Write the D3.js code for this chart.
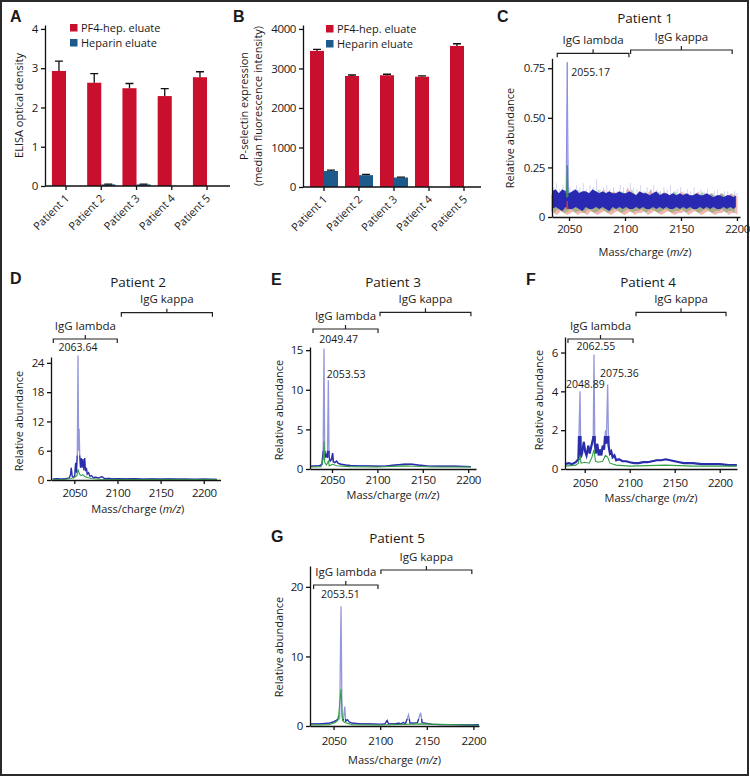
<!DOCTYPE html>
<html><head><meta charset="utf-8">
<script src="https://cdn.jsdelivr.net/npm/d3@7"></script>
<style>
body{margin:0;background:#fff}
svg{display:block}
text{font-family:"Open Sans","Liberation Sans",sans-serif;fill:#1a1a1a}
.tick text{font-family:"Open Sans","Liberation Sans",sans-serif;font-size:11.5px;letter-spacing:-0.4px;fill:#1a1a1a}
.domain,.tick line{stroke:#111;stroke-width:1.3}
</style>
</head><body><svg id="c" width="750" height="777"></svg>
<script>
// ---------------- DATA ----------------
const patients = ["Patient 1","Patient 2","Patient 3","Patient 4","Patient 5"];
const seriesNames = ["PF4-hep. eluate","Heparin eluate"];
// Panel A: ELISA optical density
const elisaPF4 = [2.93, 2.63, 2.49, 2.29, 2.77];
const elisaPF4SD = [0.25, 0.23, 0.12, 0.19, 0.14];
const elisaHep = [0, 0.04, 0.04, 0, 0];
const elisaHepSD = [0, 0.01, 0.01, 0, 0];
const elisaTicks = [0, 1, 2, 3, 4];
// Panel B: P-selectin expression (MFI)
const pselPF4 = [3445, 2810, 2828, 2792, 3570];
const pselPF4SD = [40, 25, 25, 18, 55];
const pselHep = [405, 300, 240, 0, 0];
const pselHepSD = [20, 18, 12, 0, 0];
const pselTicks = [0, 1000, 2000, 3000, 4000];
// Mass spec common
const mzTicks = [2050, 2100, 2150, 2200];
// Panel C (Patient 1) noisy band samples
const cMz = [2035,2038,2041,2044,2047,2050,2053,2056,2059,2062,2065,2068,2071,2074,2077,2080,2083,2086,2089,2092,2095,2098,2101,2104,2107,2110,2113,2116,2119,2122,2125,2128,2131,2134,2137,2140,2143,2146,2149,2152,2155,2158,2161,2164,2167,2170,2173,2176,2179,2182,2185,2188,2191,2194,2197,2199];
const cBlueSpike = [0.15,0.17,0.14,0.16,0.18,0.15,0.14,0.16,0.15,0.17,0.14,0.16,0.15,0.19,0.14,0.15,0.16,0.14,0.15,0.13,0.16,0.15,0.14,0.17,0.15,0.14,0.16,0.13,0.15,0.14,0.16,0.14,0.13,0.15,0.14,0.16,0.13,0.14,0.15,0.13,0.14,0.13,0.15,0.12,0.14,0.13,0.14,0.12,0.13,0.14,0.12,0.13,0.13,0.12,0.13,0.12];
const cBlueHi = [0.13,0.14,0.12,0.14,0.13,0.12,0.13,0.14,0.12,0.13,0.13,0.12,0.14,0.13,0.12,0.13,0.12,0.13,0.12,0.12,0.13,0.12,0.12,0.13,0.12,0.11,0.13,0.12,0.12,0.11,0.12,0.13,0.11,0.12,0.12,0.11,0.12,0.11,0.12,0.11,0.12,0.11,0.11,0.12,0.11,0.11,0.12,0.11,0.10,0.11,0.11,0.10,0.11,0.11,0.10,0.11];
const cBlueLo = [0.04,0.05,0.04,0.03,0.05,0.04,0.04,0.05,0.04,0.03,0.05,0.04,0.04,0.05,0.04,0.05,0.04,0.03,0.05,0.04,0.05,0.04,0.05,0.04,0.04,0.05,0.04,0.05,0.04,0.04,0.05,0.04,0.05,0.04,0.05,0.04,0.04,0.05,0.04,0.05,0.04,0.05,0.04,0.04,0.05,0.04,0.05,0.04,0.05,0.04,0.04,0.05,0.04,0.05,0.04,0.05];
const cRedHi = [0.12,0.10,0.13,0.11,0.14,0.10,0.12,0.11,0.13,0.10,0.11,0.13,0.10,0.12,0.11,0.14,0.10,0.12,0.13,0.11,0.12,0.10,0.15,0.11,0.12,0.10,0.13,0.11,0.12,0.14,0.10,0.12,0.11,0.13,0.10,0.12,0.11,0.10,0.13,0.11,0.12,0.10,0.11,0.13,0.10,0.12,0.11,0.12,0.10,0.11,0.12,0.10,0.11,0.12,0.10,0.11];
const cRedLo = [0.02,0.01,0.03,0.02,0.01,0.02,0.03,0.01,0.02,0.02,0.01,0.03,0.02,0.01,0.02,0.03,0.02,0.01,0.02,0.03,0.02,0.01,0.02,0.03,0.01,0.02,0.02,0.03,0.01,0.02,0.03,0.02,0.01,0.02,0.03,0.02,0.01,0.02,0.02,0.03,0.01,0.02,0.03,0.02,0.01,0.02,0.03,0.02,0.01,0.02,0.02,0.03,0.01,0.02,0.02,0.01];
const cGreenHi = [0.11,0.14,0.12,0.10,0.13,0.15,0.11,0.12,0.14,0.11,0.13,0.11,0.12,0.10,0.14,0.12,0.11,0.13,0.10,0.12,0.11,0.13,0.12,0.10,0.14,0.11,0.12,0.10,0.13,0.11,0.12,0.10,0.13,0.11,0.12,0.10,0.12,0.13,0.10,0.11,0.12,0.10,0.11,0.12,0.10,0.13,0.10,0.11,0.12,0.10,0.11,0.12,0.10,0.11,0.10,0.12];
const cGreenLo = [0.03,0.02,0.04,0.03,0.02,0.03,0.04,0.02,0.03,0.03,0.02,0.04,0.03,0.02,0.03,0.04,0.03,0.02,0.03,0.04,0.03,0.02,0.03,0.04,0.02,0.03,0.03,0.04,0.02,0.03,0.04,0.03,0.02,0.03,0.04,0.03,0.02,0.03,0.03,0.04,0.02,0.03,0.04,0.03,0.02,0.03,0.04,0.03,0.02,0.03,0.03,0.04,0.02,0.03,0.03,0.02];
const cPeakBlue = [[2047.4,0.12],[2048.4,0.78],[2049.4,0.12]];
const cPeakGreen = [[2047.7,0.10],[2048.4,0.26],[2049.1,0.10]];
const cPeakRed = [[2047.9,0.04],[2048.4,0.08],[2048.9,0.04]];
// Panel D (Patient 2)
const dBlue = [[2025,0.2],[2030,0.3],[2035,0.2],[2040,0.3],[2044,0.4],[2045.5,1.0],[2046.5,2.5],[2047.5,0.8],[2049,0.5],[2050.5,0.9],[2051.5,3.5],[2052.5,1.5],[2053.5,5.5],[2054.3,25.5],[2055,6],[2055.6,10.5],[2056.3,5],[2057.2,2.5],[2058.2,4.5],[2059,2.5],[2060,4.3],[2061,2],[2062,4.5],[2063,1.8],[2064,2.5],[2065,1.2],[2066.5,1.5],[2068,0.8],[2070,0.9],[2072,0.5],[2075,0.6],[2078,0.4],[2082,0.7],[2085,0.3],[2090,0.35],[2095,0.25],[2100,0.3],[2110,0.25],[2120,0.3],[2130,0.2],[2140,0.25],[2150,0.2],[2160,0.25],[2170,0.2],[2180,0.2],[2190,0.15],[2200,0.2],[2210,0.15],[2215,0.15]];
const dGreen = [[2025,0.1],[2040,0.15],[2046,0.3],[2050,0.5],[2053,0.9],[2054.3,2.2],[2056,1.2],[2058,0.9],[2060,1.1],[2062,0.7],[2065,0.5],[2070,0.3],[2080,0.15],[2100,0.1],[2150,0.08],[2215,0.08]];
// Panel E (Patient 3)
const eBlue = [[2027,0.35],[2032,0.4],[2036,0.4],[2039,0.6],[2040.3,2.2],[2041.2,15.2],[2042,2.3],[2043,1.6],[2044,1.8],[2045,1.4],[2046,11.2],[2046.8,1.6],[2048,1.0],[2049.5,1.2],[2050.7,2.0],[2051.5,0.9],[2053,0.8],[2055,1.0],[2057,0.7],[2060,0.6],[2065,0.5],[2070,0.45],[2080,0.4],[2090,0.4],[2100,0.35],[2110,0.4],[2120,0.5],[2130,0.6],[2138,0.6],[2145,0.5],[2155,0.4],[2170,0.35],[2185,0.35],[2203,0.3]];
const eGreen = [[2027,0.25],[2038,0.3],[2040.3,1.2],[2041.2,3.5],[2042,0.8],[2044,0.5],[2046,1.0],[2047,0.4],[2050.7,0.6],[2055,0.4],[2070,0.3],[2100,0.25],[2130,0.4],[2140,0.35],[2160,0.25],[2203,0.25]];
// Panel F (Patient 4)
const fBlue = [[2028,0.25],[2032,0.3],[2036,0.25],[2040,0.35],[2043,0.5],[2044.8,4.0],[2045.6,0.6],[2047,0.8],[2049,1.4],[2050.5,0.9],[2052,0.7],[2054,1.2],[2055.5,0.8],[2057,1.1],[2058.5,1.4],[2059.5,1.6],[2060.3,5.9],[2061.2,1.3],[2062.5,0.8],[2064,1.3],[2065.5,0.7],[2067,1.0],[2068.5,0.7],[2070,1.2],[2071.5,1.0],[2073,2.0],[2074,1.3],[2075.5,4.35],[2076.5,1.2],[2078,0.8],[2079.5,0.9],[2081,0.6],[2083,0.7],[2085,0.45],[2088,0.5],[2092,0.4],[2096,0.4],[2100,0.35],[2105,0.3],[2110,0.3],[2115,0.35],[2120,0.35],[2125,0.4],[2130,0.45],[2135,0.45],[2140,0.5],[2145,0.45],[2150,0.4],[2155,0.35],[2160,0.3],[2170,0.3],[2180,0.25],[2190,0.25],[2200,0.25],[2210,0.2],[2219,0.2]];
const fGreen = [[2028,0.15],[2040,0.2],[2043,0.3],[2044.8,0.7],[2046,0.3],[2050,0.35],[2055,0.3],[2058,0.6],[2060.3,1.0],[2062,0.4],[2065,0.35],[2070,0.4],[2073,0.7],[2075.5,0.6],[2078,0.3],[2085,0.2],[2100,0.15],[2140,0.2],[2170,0.15],[2219,0.15]];
// Panel G (Patient 5)
const gBlue = [[2025,0.3],[2035,0.3],[2045,0.4],[2050,0.6],[2054,0.9],[2055.5,1.6],[2056.5,1.0],[2058,17.2],[2059,1.5],[2060.5,0.8],[2062,2.8],[2063,0.7],[2065,0.9],[2066.5,0.6],[2070,0.4],[2080,0.3],[2090,0.3],[2100,0.25],[2105,0.3],[2107.5,0.8],[2109,0.3],[2115,0.3],[2120,0.4],[2122,0.3],[2125,0.5],[2127,0.3],[2130.4,1.6],[2132,0.4],[2136,0.4],[2140,0.5],[2143.4,1.9],[2145,0.5],[2148,0.4],[2155,0.25],[2165,0.2],[2180,0.2],[2195,0.15],[2206,0.2]];
const gGreen = [[2025,0.15],[2045,0.2],[2052,0.5],[2055,0.9],[2058,5.3],[2059.5,0.8],[2062,0.5],[2070,0.2],[2100,0.15],[2143,0.3],[2206,0.1]];
// Peak annotations (label text, m/z, abundance of the labelled peak)
const cPeaks = [["2055.17",2048.4,0.78]];
const dPeaks = [["2063.64",2054.3,25.5]];
const ePeaks = [["2049.47",2041.2,15.2],["2053.53",2046,11.2]];
const fPeaks = [["2062.55",2060.3,5.9],["2075.36",2075.5,4.35],["2048.89",2044.8,4.0]];
const gPeaks = [["2053.51",2058,17.2]];
// IgG region brackets (m/z ranges)
const cLambda=[2039.5,2103.5], cKappa=[2105,2195.7];
const dLambda=[2025.7,2099.8], dKappa=[2104.5,2210];
const eLambda=[2029.1,2100.7], eKappa=[2102.9,2203];
const fLambda=[2031.4,2103.7], fKappa=[2107,2207];
const gLambda=[2028.6,2097.6], gKappa=[2100.8,2198.3];

// ---------------- DRAWING ----------------
const svg = d3.select("#c");
const RED="#c8102e", BLUE="#1b5a8a";
svg.append("rect").attr("x",1).attr("y",1).attr("width",747).attr("height",774)
  .attr("fill","none").attr("stroke","#2a2a2a").attr("stroke-width",2);

function letter(t,x,y){
  svg.append("text").attr("x",x).attr("y",y).text(t)
    .style("font-family","'Liberation Sans',Arial,sans-serif").style("font-weight","bold").style("font-size","16px");
}

function barPanel(o){
  const g = svg.append("g");
  const x = d3.scaleBand().domain(patients).range(o.xr).paddingInner(0.2).paddingOuter(0.1);
  const sub = d3.scaleBand().domain(seriesNames).range([0,x.bandwidth()]);
  const y = d3.scaleLinear().domain([0,o.yMax]).range([o.bottom,o.top]);
  const series = [[o.pf4,o.pf4sd,RED],[o.hep,o.hepsd,BLUE]];
  series.forEach(([vals,sds,col],si)=>{
    patients.forEach((p,i)=>{
      const bx = x(p)+sub(seriesNames[si]);
      const bw = sub.bandwidth();
      if(vals[i]>0){
        g.append("rect").attr("x",bx).attr("y",y(vals[i])).attr("width",bw)
         .attr("height",y(0)-y(vals[i])).attr("fill",col);
      }
      if(sds[i]>0){
        const cx = bx+bw/2, yt=y(vals[i]+sds[i]);
        g.append("path").attr("d",`M${cx},${y(vals[i])}V${yt}M${cx-4},${yt}H${cx+4}`)
         .attr("stroke","#111").attr("stroke-width",1.3).attr("fill","none");
      }
    });
  });
  g.append("g").attr("transform",`translate(${o.axisX},0)`)
   .call(d3.axisLeft(y).tickValues(o.ticks).tickSize(4).tickPadding(3).tickSizeOuter(0).tickFormat(d3.format("d")));
  g.append("line").attr("x1",o.axisX).attr("x2",o.xEnd).attr("y1",o.bottom).attr("y2",o.bottom)
   .attr("stroke","#111").attr("stroke-width",1.3);
  patients.forEach(p=>{
    const cx = x(p)+x.bandwidth()/2;
    g.append("line").attr("x1",cx).attr("x2",cx).attr("y1",o.bottom).attr("y2",o.bottom+4).attr("stroke","#111").attr("stroke-width",1.3);
    g.append("text").attr("transform",`translate(${cx+4},${o.bottom+13}) rotate(-45)`)
     .attr("text-anchor","end").style("font-size","11px").text(p);
  });
  [[RED,seriesNames[0],0],[BLUE,seriesNames[1],15]].forEach(([c,t,dy])=>{
    g.append("rect").attr("x",o.legX).attr("y",o.legY+dy-7.5).attr("width",7.5).attr("height",7.5).attr("fill",c);
    g.append("text").attr("x",o.legX+11).attr("y",o.legY+dy).style("font-size","11px").text(t);
  });
  o.yTitle.forEach((t,i)=>{
    g.append("text").attr("transform",`translate(${o.yTitleX[i]},${(o.top+o.bottom)/2}) rotate(-90)`)
     .attr("text-anchor","middle").style("font-size","11px").text(t);
  });
}

letter("A",10,22);
barPanel({xr:[48.4,224.65],axisX:45,xEnd:230,bottom:186,top:25,yMax:4.1,ticks:elisaTicks,
  pf4:elisaPF4,pf4sd:elisaPF4SD,hep:elisaHep,hepsd:elisaHepSD,legX:70,legY:31.5,
  yTitle:["ELISA optical density"],yTitleX:[23]});
letter("B",233,22);
barPanel({xr:[306.5,481.5],axisX:303,xEnd:481,bottom:187,top:25,yMax:4100,ticks:pselTicks,
  pf4:pselPF4,pf4sd:pselPF4SD,hep:pselHep,hepsd:pselHepSD,legX:326,legY:32.5,
  yTitle:["P-selectin expression","(median fluorescence intensity)"],yTitleX:[248,262]});

let clipId=0;
function spectrum(o){
  const g = svg.append("g");
  const x = d3.scaleLinear().domain(o.xDom).range([o.left,o.right]);
  const y = d3.scaleLinear().domain(o.yDom).range([o.bottom,o.top]);
  const line = d3.line().x(d=>x(d[0])).y(d=>y(d[1]));
  const plot = g.append("g");
  if(o.noise){
    const n=o.noise;
    const band=(lo,hi,off,col,op)=>{
      const ar=d3.area().x(m=>x(m)+off).y0((m,i)=>y(lo[i])).y1((m,i)=>y(hi[i]));
      plot.append("path").datum(n.mz).attr("d",ar).attr("fill",col).attr("opacity",op);
    };
    band(n.redLo,n.redHi,1.6,"#e0453a",0.4);
    band(n.greenLo,n.greenHi,-1.2,"#3aa050",0.4);
    n.mz.forEach((m,i)=>{
      plot.append("line").attr("x1",x(m)+0.8).attr("x2",x(m)+0.8)
        .attr("y1",y(n.blueHi[i])).attr("y2",y(n.blueSpike[i])).attr("stroke","#8084dd").attr("stroke-width",0.7).attr("opacity",0.5);
    });
    band(n.blueLo,n.blueHi,0,"#2828b2",1);
    plot.append("path").attr("d",line(n.peakBlue)).attr("fill","#b9bbee").attr("stroke","#8a8de0").attr("stroke-width",1);
    plot.append("path").attr("d",line(n.peakGreen)).attr("fill","#3a9a66").attr("stroke","#2f8a5a").attr("stroke-width",0.8);
    plot.append("path").attr("d",line(n.peakRed)).attr("fill","#e03a2a").attr("stroke","#e03a2a").attr("stroke-width",0.8);
  } else {
    const id="clip"+(clipId++);
    svg.append("clipPath").attr("id",id).append("rect")
      .attr("x",o.left).attr("y",y(o.darkMax)).attr("width",o.right-o.left).attr("height",o.bottom-y(o.darkMax));
    plot.append("path").attr("d",line(o.blue)).attr("fill","none").attr("stroke","#9597dc").attr("stroke-width",1.3);
    plot.append("path").attr("d",line(o.blue)).attr("fill","none").attr("stroke","#2a2eaa").attr("stroke-width",o.darkW)
      .attr("clip-path",`url(#${id})`);
    plot.append("path").attr("d",line(o.green)).attr("fill","none").attr("stroke","#33a048").attr("stroke-width",1.1);
  }
  g.append("g").attr("transform",`translate(0,${o.bottom})`)
   .call(d3.axisBottom(x).tickValues(mzTicks).tickSize(4).tickPadding(o.xPad).tickSizeOuter(0).tickFormat(d3.format("d")));
  g.append("g").attr("transform",`translate(${o.left},0)`)
   .call(d3.axisLeft(y).tickValues(o.yTicks).tickSize(4).tickPadding(3).tickSizeOuter(0).tickFormat(o.fmt));
  o.peaks.forEach(([t,m,v],i)=>{
    const a=o.peakPos[i];
    g.append("text").attr("x",x(m)+a[0]).attr("y",y(v)+a[1]).attr("text-anchor",a[2])
     .style("font-size","10.5px").text(t);
  });
  const br=(rng,yy,label)=>{
    const a=x(rng[0]), b=x(rng[1]), mid=(a+b)/2;
    g.append("path").attr("d",`M${a},${yy+4}V${yy}H${b}V${yy+4}M${mid},${yy}V${yy-4}`)
     .attr("fill","none").attr("stroke","#222").attr("stroke-width",1.2);
    g.append("text").attr("x",mid).attr("y",yy-9.5).attr("text-anchor","middle").style("font-size","11.5px").text(label);
  };
  br(o.lambda,o.lambdaY,"IgG lambda");
  br(o.kappa,o.kappaY,"IgG kappa");
  g.append("text").attr("x",o.titleX).attr("y",o.titleY).attr("text-anchor","middle").style("font-size","13.5px").text(o.title);
  g.append("text").attr("transform",`translate(${o.yTitleX},${o.yTitleY}) rotate(-90)`)
   .attr("text-anchor","middle").style("font-size","11px").text("Relative abundance");
  const xt=g.append("text").attr("x",(o.left+o.right)/2+o.xTitleDx).attr("y",o.xTitleY).attr("text-anchor","middle").style("font-size","11px");
  xt.append("tspan").text("Mass/charge (");
  xt.append("tspan").style("font-style","italic").text("m/z");
  xt.append("tspan").text(")");
}

letter("C",497,22);
spectrum({xDom:[2034.8,2202.7],left:552,right:740,yDom:[0,0.8],bottom:217,top:58.3,
  yTicks:[0,0.25,0.5,0.75],fmt:d=>d===0?"0":d3.format(".2f")(d),xPad:4,
  noise:{mz:cMz,blueHi:cBlueHi,blueLo:cBlueLo,blueSpike:cBlueSpike,redHi:cRedHi,redLo:cRedLo,greenHi:cGreenHi,greenLo:cGreenLo,
    peakBlue:cPeakBlue,peakGreen:cPeakGreen,peakRed:cPeakRed},
  peaks:cPeaks,peakPos:[[4,14,"start"]],
  lambda:cLambda,lambdaY:53.3,kappa:cKappa,kappaY:50,
  title:"Patient 1",titleX:645,titleY:23,yTitleX:514,yTitleY:138,xTitleDx:-1,xTitleY:256});

letter("D",10,284);
spectrum({xDom:[2023,2219.5],left:51,right:220.6,yDom:[0,25.2],bottom:480,top:357,
  yTicks:[0,6,12,18,24],fmt:d3.format("d"),xPad:5,blue:dBlue,green:dGreen,darkMax:5,darkW:1.2,
  peaks:dPeaks,peakPos:[[0,-5,"middle"]],
  lambda:dLambda,lambdaY:339,kappa:dKappa,kappaY:312.7,
  title:"Patient 2",titleX:138,titleY:287,yTitleX:23,yTitleY:421,xTitleDx:2,xTitleY:513});

letter("E",271,285);
spectrum({xDom:[2025.8,2208.6],left:310,right:476,yDom:[0,15.4],bottom:469,top:347,
  yTicks:[0,5,10,15],fmt:d3.format("d"),xPad:2.5,blue:eBlue,green:eGreen,darkMax:2.3,darkW:1.4,
  peaks:ePeaks,peakPos:[[14.7,-5.8,"middle"],[-1.6,-2,"start"]],
  lambda:eLambda,lambdaY:329,kappa:eKappa,kappaY:312.3,
  title:"Patient 3",titleX:393,titleY:287,yTitleX:283,yTitleY:410,xTitleDx:0,xTitleY:499});

letter("F",526,285);
spectrum({xDom:[2028.1,2219.2],left:565,right:737,yDom:[0,6.8],bottom:469,top:337,
  yTicks:[0,2,4,6],fmt:d3.format("d"),xPad:6,blue:fBlue,green:fGreen,darkMax:1.7,darkW:2.2,
  peaks:fPeaks,peakPos:[[2,-4.3,"middle"],[-7.7,-7.7,"start"],[-14,-3.4,"start"]],
  lambda:fLambda,lambdaY:339,kappa:fKappa,kappaY:312.3,
  title:"Patient 4",titleX:648,titleY:287,yTitleX:543,yTitleY:400,xTitleDx:0,xTitleY:502});

letter("G",271,542);
spectrum({xDom:[2024.7,2206],left:310,right:479,yDom:[0,23],bottom:726,top:566,
  yTicks:[0,10,20],fmt:d3.format("d"),xPad:7,blue:gBlue,green:gGreen,darkMax:1.0,darkW:1.2,
  peaks:gPeaks,peakPos:[[-0.7,-8.5,"middle"]],
  lambda:gLambda,lambdaY:585,kappa:gKappa,kappaY:570,
  title:"Patient 5",titleX:397,titleY:543,yTitleX:283,yTitleY:647,xTitleDx:0,xTitleY:764});
</script>
</body></html>
